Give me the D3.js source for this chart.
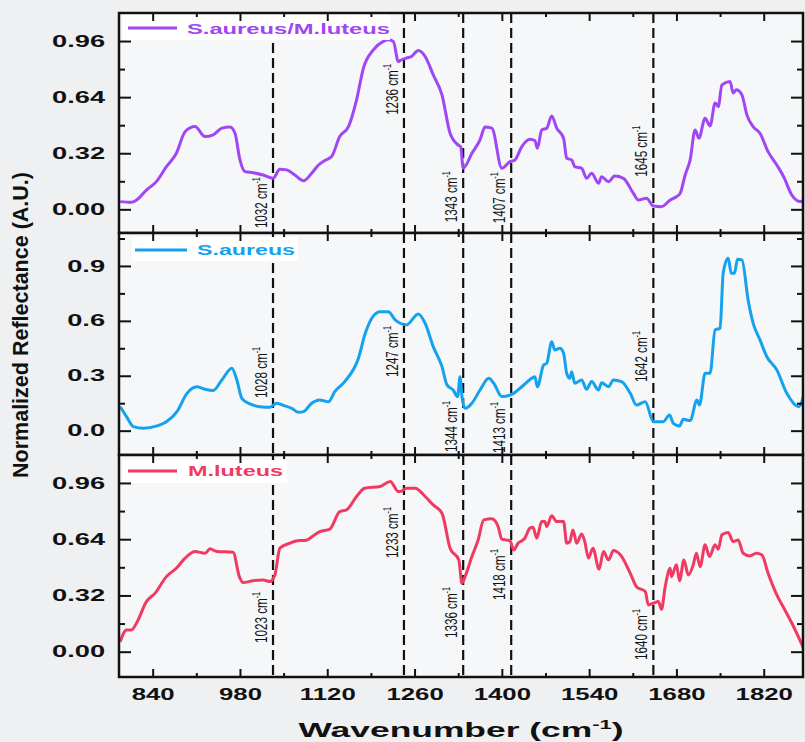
<!DOCTYPE html>
<html>
<head>
<meta charset="utf-8">
<script src="https://cdn.jsdelivr.net/npm/d3@7"></script>
<style>
  body { margin: 0; background: #eef0f1; }
  svg { display: block; }
</style>
</head>
<body>
<div id="canvas"></div>
<script>
// DATA
const xMajor = [840, 980, 1120, 1260, 1400, 1540, 1680, 1820];
const xMinor = [910, 1050, 1190, 1330, 1470, 1610, 1750];

const yTicks096 = [0, 0.32, 0.64, 0.96];
const yMinor096 = [0.16, 0.48, 0.8];
const yTicks09 = [0, 0.3, 0.6, 0.9];
const yMinor09 = [0.15, 0.45, 0.75, 1.05];

const dashWn = [1033, 1243, 1338, 1415, 1643];

// S.aureus/M.luteus
const suWn = [788,806,814,830,846,862,878,892,908,924,937,951,964,972,980,988,1001,1017,1033,1044,1055,1068,1082,1095,1106,1116,1127,1140,1154,1167,1178,1194,1210,1218,1226,1234,1237,1247,1255,1266,1277,1290,1304,1317,1330,1334,1338,1352,1365,1373,1384,1400,1413,1421,1432,1445,1453,1457,1464,1472,1480,1488,1499,1504,1512,1517,1528,1536,1544,1555,1560,1571,1581,1595,1611,1619,1632,1643,1656,1670,1680,1686,1694,1702,1710,1716,1726,1734,1742,1747,1753,1766,1771,1776,1785,1793,1803,1814,1827,1841,1852,1865,1879,1885];
const suVal = [0.044,0.04,0.053,0.11,0.158,0.243,0.32,0.443,0.472,0.415,0.425,0.463,0.469,0.434,0.282,0.215,0.209,0.196,0.177,0.229,0.225,0.196,0.163,0.206,0.253,0.278,0.301,0.415,0.472,0.625,0.806,0.91,0.958,0.967,0.958,0.843,0.849,0.863,0.872,0.906,0.872,0.767,0.653,0.434,0.367,0.358,0.234,0.32,0.396,0.469,0.463,0.234,0.272,0.282,0.358,0.4,0.392,0.349,0.453,0.463,0.533,0.463,0.406,0.291,0.282,0.243,0.234,0.177,0.206,0.149,0.186,0.158,0.19,0.177,0.091,0.053,0.063,0.019,0.015,0.053,0.072,0.091,0.196,0.282,0.453,0.406,0.52,0.476,0.606,0.586,0.71,0.729,0.663,0.682,0.653,0.539,0.472,0.434,0.329,0.253,0.186,0.082,0.044,0.053];
const suLabels = ["1032", "1236", "1343", "1407", "1645"];
const suLabelY = [-0.107, 0.539, -0.073, -0.079, 0.186];

// S.aureus
const saWn = [788,798,809,825,847,862,879,895,911,924,937,951,967,975,983,996,1012,1028,1039,1052,1063,1074,1082,1095,1108,1122,1132,1148,1170,1181,1194,1205,1218,1229,1237,1247,1266,1277,1290,1304,1312,1322,1329,1333,1336,1341,1352,1365,1379,1387,1400,1419,1432,1448,1453,1457,1467,1472,1480,1485,1493,1499,1504,1509,1512,1517,1528,1536,1544,1555,1560,1571,1579,1592,1606,1616,1630,1643,1659,1669,1675,1685,1691,1702,1713,1717,1726,1734,1742,1750,1755,1763,1768,1773,1778,1785,1795,1803,1814,1825,1841,1857,1876,1885];
const saVal = [0.131,0.077,0.022,0.013,0.026,0.049,0.104,0.204,0.24,0.226,0.219,0.277,0.341,0.277,0.177,0.146,0.131,0.128,0.15,0.135,0.122,0.1,0.104,0.15,0.168,0.158,0.213,0.268,0.396,0.532,0.627,0.65,0.65,0.605,0.587,0.578,0.638,0.587,0.459,0.35,0.25,0.222,0.186,0.295,0.186,0.122,0.15,0.222,0.286,0.259,0.186,0.204,0.24,0.286,0.295,0.24,0.359,0.368,0.486,0.441,0.45,0.423,0.314,0.286,0.322,0.259,0.277,0.226,0.268,0.222,0.262,0.24,0.277,0.268,0.204,0.14,0.158,0.049,0.049,0.086,0.04,0.026,0.062,0.055,0.168,0.14,0.314,0.314,0.55,0.56,0.86,0.942,0.86,0.86,0.937,0.933,0.714,0.587,0.496,0.404,0.332,0.204,0.131,0.204];
const saLabels = ["1028", "1247", "1344", "1413", "1642"];
const saLabelY = [0.179, 0.293, -0.116, -0.122, 0.266];

// M.luteus
const mlWn = [788,798,806,814,830,844,862,878,892,908,924,932,943,969,979,985,1001,1017,1028,1036,1044,1060,1076,1084,1100,1108,1124,1140,1151,1167,1180,1205,1221,1234,1237,1247,1261,1277,1290,1304,1317,1331,1336,1341,1352,1362,1371,1384,1394,1400,1413,1419,1426,1437,1445,1450,1456,1464,1469,1472,1480,1488,1499,1504,1509,1514,1520,1528,1533,1539,1546,1556,1563,1571,1579,1590,1606,1616,1630,1635,1643,1651,1656,1662,1670,1672,1680,1685,1692,1699,1707,1712,1718,1726,1733,1742,1747,1753,1763,1771,1779,1787,1798,1808,1817,1827,1841,1854,1868,1884];
const mlVal = [0.057,0.124,0.124,0.162,0.285,0.333,0.427,0.475,0.532,0.57,0.56,0.585,0.57,0.566,0.427,0.393,0.404,0.408,0.399,0.437,0.589,0.617,0.632,0.632,0.665,0.683,0.697,0.797,0.807,0.883,0.93,0.94,0.968,0.911,0.911,0.93,0.93,0.883,0.835,0.788,0.589,0.522,0.39,0.427,0.541,0.636,0.75,0.756,0.712,0.64,0.632,0.579,0.617,0.646,0.703,0.708,0.646,0.74,0.74,0.712,0.773,0.74,0.74,0.617,0.626,0.693,0.617,0.67,0.626,0.532,0.589,0.469,0.57,0.522,0.575,0.551,0.446,0.37,0.342,0.266,0.276,0.285,0.241,0.37,0.475,0.427,0.494,0.404,0.522,0.437,0.494,0.56,0.484,0.608,0.541,0.608,0.583,0.665,0.678,0.626,0.636,0.56,0.545,0.56,0.551,0.446,0.323,0.237,0.142,0.019];
const mlLabels = ["1023", "1233", "1336", "1418", "1640"];
const mlLabelY = [0.05, 0.533, 0.078, 0.294, -0.047];

// DIMENSIONS
const width = 805, height = 742;
const left = 119, right = 803;

const sans = "'Liberation Sans', Arial, Helvetica, sans-serif";

const panels = [
    { name: "S.aureus/M.luteus", color: "#a046f5", top: 13, bottom: 233, domain: [-0.135, 1.12],
      ticks: yTicks096, minor: yMinor096, fmt: d3.format(".2f"),
      wn: suWn, val: suVal, labels: suLabels, labelY: suLabelY,
      legend: { x0: 123, x1: 390, y0: 14, y1: 40, l0: 128, l1: 177, ly: 28, tx: 187, tw: 203, base: 34 } },
    { name: "S.aureus", color: "#14a2ee", top: 233, bottom: 455, domain: [-0.133, 1.08],
      ticks: yTicks09, minor: yMinor09, fmt: d3.format(".1f"),
      wn: saWn, val: saVal, labels: saLabels, labelY: saLabelY,
      legend: { x0: 132, x1: 298, y0: 237, y1: 261, l0: 135, l1: 187, ly: 250, tx: 197, tw: 98, base: 255 } },
    { name: "M.luteus", color: "#f03a62", top: 455, bottom: 677, domain: [-0.144, 1.119],
      ticks: yTicks096, minor: yMinor096, fmt: d3.format(".2f"),
      wn: mlWn, val: mlVal, labels: mlLabels, labelY: mlLabelY,
      legend: { x0: 123, x1: 287, y0: 460, y1: 483, l0: 128, l1: 177, ly: 471, tx: 188, tw: 95, base: 476 } }
];

function stretch(sel, k) {
    sel.each(function () {
        const len = this.getComputedTextLength();
        d3.select(this).attr("textLength", len * k).attr("lengthAdjust", "spacingAndGlyphs");
    });
}

// CANVAS
const svg = d3.select("#canvas")
    .append("svg")
    .attr("width", width)
    .attr("height", height);

svg.append("rect").attr("width", width).attr("height", height).attr("fill", "#eef0f1");

const xScale = d3.scaleLinear().domain([786, 1883]).range([left, right]);

panels.forEach((p, i) => {
    const yScale = d3.scaleLinear().domain(p.domain).range([p.bottom, p.top]);
    const g = svg.append("g");

    g.append("rect")
        .attr("x", left).attr("y", p.top)
        .attr("width", right - left).attr("height", p.bottom - p.top)
        .attr("fill", "#f6f7f8");

    g.append("clipPath").attr("id", "clip" + i)
        .append("rect")
        .attr("x", left).attr("y", p.top)
        .attr("width", right - left).attr("height", p.bottom - p.top);

    // DASHED MARKERS
    g.selectAll(".dash")
        .data(dashWn)
        .enter()
        .append("line")
        .attr("x1", d => xScale(d)).attr("x2", d => xScale(d))
        .attr("y1", p.top).attr("y2", p.bottom)
        .attr("stroke", "#111")
        .attr("stroke-width", 2.2)
        .attr("stroke-dasharray", "10,5");

    // SPECTRUM
    const pts = p.wn.map((w, j) => [w, p.val[j]]);
    const makeLine = d3.line()
        .x(d => xScale(d[0]))
        .y(d => yScale(d[1]))
        .curve(d3.curveMonotoneX);

    g.append("path")
        .attr("d", makeLine(pts))
        .attr("clip-path", `url(#clip${i})`)
        .style("stroke", p.color)
        .style("stroke-width", 3)
        .style("stroke-linejoin", "round")
        .style("fill", "none");

    // PEAK LABELS
    p.labels.forEach((lab, j) => {
        const tx = xScale(dashWn[j]) - 6;
        const ty = yScale(p.labelY[j]);
        const t = g.append("text")
            .attr("transform", `translate(${tx},${ty}) rotate(-90)`)
            .attr("textLength", 51).attr("lengthAdjust", "spacingAndGlyphs")
            .style("font-family", sans)
            .style("font-size", "16px")
            .attr("fill", "#111");
        t.append("tspan").text(lab + " cm");
        t.append("tspan").attr("dy", -7).style("font-size", "10px").text("-1");
    });

    // LEGEND
    const L = p.legend;
    g.append("rect")
        .attr("x", L.x0).attr("y", L.y0)
        .attr("width", L.x1 - L.x0).attr("height", L.y1 - L.y0)
        .attr("fill", "#ffffff");
    g.append("line")
        .attr("x1", L.l0).attr("x2", L.l1)
        .attr("y1", L.ly).attr("y2", L.ly)
        .attr("stroke", p.color).attr("stroke-width", 3);
    g.append("text")
        .attr("x", L.tx).attr("y", L.base)
        .attr("textLength", L.tw).attr("lengthAdjust", "spacingAndGlyphs")
        .style("font-family", sans).style("font-weight", "bold").style("font-size", "15.5px")
        .attr("fill", p.color)
        .text(p.name);

    // AXES
    const tidy = sel => {
        sel.select(".domain").remove();
        sel.selectAll("line").attr("stroke", "#111").attr("stroke-width", 2);
    };

    const yAx = g.append("g")
        .attr("transform", `translate(${left},0)`)
        .call(d3.axisLeft(yScale).tickValues(p.ticks).tickFormat(p.fmt)
            .tickSizeInner(-12).tickSizeOuter(0).tickPadding(14))
        .call(tidy);
    yAx.selectAll("text")
        .style("font-family", sans).style("font-weight", "bold").style("font-size", "16px")
        .attr("fill", "#111")
        .call(stretch, 1.7);

    g.append("g")
        .attr("transform", `translate(${left},0)`)
        .call(d3.axisLeft(yScale).tickValues(p.minor).tickFormat("")
            .tickSizeInner(-6).tickSizeOuter(0))
        .call(tidy);

    g.append("g")
        .attr("transform", `translate(${right},0)`)
        .call(d3.axisRight(yScale).tickValues(p.ticks).tickFormat("")
            .tickSizeInner(-12).tickSizeOuter(0))
        .call(tidy);
    g.append("g")
        .attr("transform", `translate(${right},0)`)
        .call(d3.axisRight(yScale).tickValues(p.minor).tickFormat("")
            .tickSizeInner(-6).tickSizeOuter(0))
        .call(tidy);

    g.append("g")
        .attr("transform", `translate(0,${p.top})`)
        .call(d3.axisTop(xScale).tickValues(xMajor).tickFormat("")
            .tickSizeInner(-8).tickSizeOuter(0))
        .call(tidy);
    g.append("g")
        .attr("transform", `translate(0,${p.top})`)
        .call(d3.axisTop(xScale).tickValues(xMinor).tickFormat("")
            .tickSizeInner(-4).tickSizeOuter(0))
        .call(tidy);

    const last = i === panels.length - 1;
    const xAx = g.append("g")
        .attr("transform", `translate(0,${p.bottom})`)
        .call(d3.axisBottom(xScale).tickValues(xMajor)
            .tickFormat(last ? d3.format("d") : "")
            .tickSizeInner(-8).tickSizeOuter(0).tickPadding(11))
        .call(tidy);
    xAx.selectAll("text")
        .style("font-family", sans).style("font-weight", "bold").style("font-size", "16.5px")
        .attr("fill", "#111")
        .call(stretch, 1.56);
    g.append("g")
        .attr("transform", `translate(0,${p.bottom})`)
        .call(d3.axisBottom(xScale).tickValues(xMinor).tickFormat("")
            .tickSizeInner(-4).tickSizeOuter(0))
        .call(tidy);

    // FRAME
    g.append("rect")
        .attr("x", left).attr("y", p.top)
        .attr("width", right - left).attr("height", p.bottom - p.top)
        .attr("fill", "none")
        .attr("stroke", "#111")
        .attr("stroke-width", 2.5);
});

// AXIS TITLES
const xt = svg.append("text")
    .attr("x", (left + right) / 2)
    .attr("y", 737)
    .attr("text-anchor", "middle")
    .attr("textLength", 325).attr("lengthAdjust", "spacingAndGlyphs")
    .style("font-family", sans).style("font-weight", "bold").style("font-size", "21px")
    .attr("fill", "#111");
xt.append("tspan").text("Wavenumber (cm");
xt.append("tspan").attr("dy", -8).style("font-size", "13px").text("-1");
xt.append("tspan").attr("dy", 8).style("font-size", "21px").text(")");

svg.append("text")
    .attr("transform", "translate(28,325) rotate(-90)")
    .attr("text-anchor", "middle")
    .attr("textLength", 306).attr("lengthAdjust", "spacingAndGlyphs")
    .style("font-family", sans).style("font-weight", "bold").style("font-size", "22px")
    .attr("fill", "#111")
    .text("Normalized Reflectance (A.U.)");
</script>
</body>
</html>
